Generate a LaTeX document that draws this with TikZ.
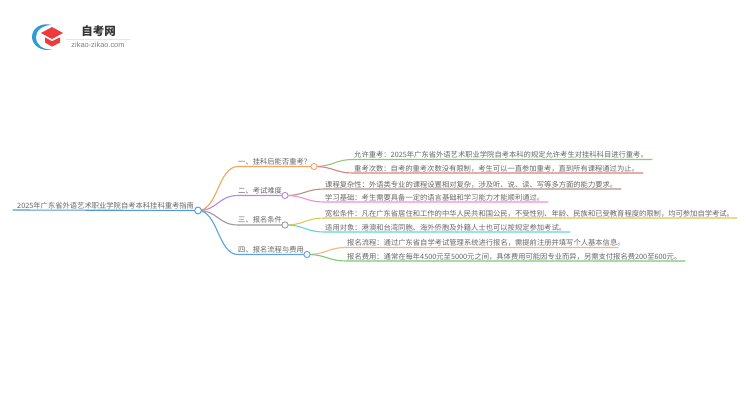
\documentclass[tikz,border=0pt]{standalone}
\usepackage{fontspec}
\usetikzlibrary{calc}
\setmainfont{Noto Sans CJK SC}
\setsansfont{Liberation Sans}
\newcommand{\cln}{\symbol{"FF1A}}
\newcommand{\cma}{\symbol{"FF0C}}
\definecolor{txt}{HTML}{666666}
\definecolor{cRoot}{HTML}{4F9BD9}
\definecolor{cA}{HTML}{F9A45C}
\definecolor{cB}{HTML}{B58AD8}
\definecolor{cC}{HTML}{9A9A9A}
\definecolor{cD}{HTML}{5FA3DC}
\definecolor{cA1}{HTML}{8CCB7E}
\definecolor{cA2}{HTML}{E07F7F}
\definecolor{cB1}{HTML}{B3938A}
\definecolor{cB2}{HTML}{F08FD8}
\definecolor{cC1}{HTML}{D6CF4E}
\definecolor{cC2}{HTML}{5FD6E6}
\definecolor{cD1}{HTML}{F9B57C}
\definecolor{cD2}{HTML}{7FC874}
\definecolor{logoB}{HTML}{2E9BDA}
\definecolor{logoR}{HTML}{EE3B3B}
\tikzset{
  x=1pt,y=-1pt,
  lab/.style={inner sep=0pt,anchor=base west,text=txt,font=\fontsize{7.3}{8}\selectfont},
  hub/.style={circle,draw=#1,fill=white,line width=0.9pt,minimum size=6.2pt,inner sep=0pt},
  wire/.style={draw=#1,line width=1.1pt,line cap=round},
}
\newcommand{\arm}[4]{% colour, from node, knee coordinate, end coordinate
  \draw[wire=#1] (#2.center) .. controls ($(#2.center)+(20,0)$) and ($(#3)+(-20,0)$) .. (#3) -- (#4);}
\begin{document}
\begin{tikzpicture}
\useasboundingbox (0,0) rectangle (750,410);
\fill[white] (0,0) rectangle (750,410);
% logo
\fill[logoB] (52,25) .. controls (40,22) and (32,29) .. (32,37) .. controls (32,45) and (41,52) .. (52,49.5) .. controls (43,50) and (36,45) .. (36,37) .. controls (36,30) and (43,25) .. (52,25) -- cycle;
\fill[logoR] (52,27) -- (63,33) -- (52,39) -- (41,33) -- cycle;
\fill[logoR] (45,37.4) -- (52,41.2) -- (60,37.4) -- (60,42.5) -- (52,46.5) -- (45,42.5) -- cycle;
\node[inner sep=0pt,text=black!80,font=\fontsize{11.5}{12}\selectfont\bfseries] (logoa) at (98.5,31) {自考网};
\node[inner sep=0pt,text=black!50,font=\sffamily\fontsize{7.4}{8}\selectfont] (logob) at (98,44.8) {zikao-zikao.com};
\draw[black!10,line width=0.6pt] (66,39) -- (130,39);
% nodes on the tree
\coordinate (rs) at (13,210);
\coordinate (k1) at (238,166.5);
\coordinate (k2) at (238,195.5);
\coordinate (k3) at (238,225);
\coordinate (k4) at (238,254.5);
\coordinate (a1k) at (354,159.5); \coordinate (a1e) at (652,159.5);
\coordinate (a2k) at (354,173);   \coordinate (a2e) at (643,173);
\coordinate (b1k) at (325,189);   \coordinate (b1e) at (621,189);
\coordinate (b2k) at (325,202);   \coordinate (b2e) at (548,202);
\coordinate (c1k) at (325,218);   \coordinate (c1e) at (737,218);
\coordinate (c2k) at (325,232);   \coordinate (c2e) at (570,232);
\coordinate (d1k) at (347,247.5); \coordinate (d1e) at (618,247.5);
\coordinate (d2k) at (347,261);   \coordinate (d2e) at (685,261);
\coordinate (root) at (198,210.5);
\coordinate (h1) at (314,166.5);
\coordinate (h2) at (285,195.5);
\coordinate (h3) at (285,225);
\coordinate (h4) at (307,254.5);
% connectors
\arm{cA1}{h1}{a1k}{a1e}
\arm{cA2}{h1}{a2k}{a2e}
\arm{cB1}{h2}{b1k}{b1e}
\arm{cB2}{h2}{b2k}{b2e}
\arm{cC1}{h3}{c1k}{c1e}
\arm{cC2}{h3}{c2k}{c2e}
\arm{cD1}{h4}{d1k}{d1e}
\arm{cD2}{h4}{d2k}{d2e}
\draw[wire=cA] (root) .. controls (218,210.5) and (218,166.5) .. (k1) -- (h1);
\draw[wire=cB] (root) .. controls (218,210.5) and (218,195.5) .. (k2) -- (h2);
\draw[wire=cC] (root) .. controls (218,210.5) and (218,225) .. (k3) -- (h3);
\draw[wire=cD] (root) .. controls (218,210.5) and (218,254.5) .. (k4) -- (h4);
\draw[wire=cRoot] (rs) -- (root);
\node[hub=cRoot,minimum size=6.8pt] (nr) at (root) {};
\node[hub=cA] (n1) at (h1) {};
\node[hub=cB] (n2) at (h2) {};
\node[hub=cC] (n3) at (h3) {};
\node[hub=cD] (n4) at (h4) {};
% labels
\node[lab] (t0) at (17,208.5) {2025年广东省外语艺术职业学院自考本科挂科重考指南};
\node[lab] (t1) at (238,164) {一、挂科后能否重考?};
\node[lab] (t2) at (238,193) {二、考试难度};
\node[lab] (t3) at (238,222.5) {三、报名条件};
\node[lab] (t4) at (238,252) {四、报名流程与费用};
\node[lab] (ta1) at (354,157.5) {允许重考\cln{}2025年广东省外语艺术职业学院自考本科的规定允许考生对挂科科目进行重考。};
\node[lab] (ta2) at (354,171) {重考次数\cln{}自考的重考次数没有限制\cma{}考生可以一直参加重考\cma{}直到所有课程通过为止。};
\node[lab] (tb1) at (325,187) {课程复杂性\cln{}外语类专业的课程设置相对复杂\cma{}涉及听、说、读、写等多方面的能力要求。};
\node[lab] (tb2) at (325,200) {学习基础\cln{}考生需要具备一定的语言基础和学习能力才能顺利通过。};
\node[lab] (tc1) at (325,216) {宽松条件\cln{}凡在广东省居住和工作的中华人民共和国公民\cma{}不受性别、年龄、民族和已受教育程度的限制\cma{}均可参加自学考试。};
\node[lab] (tc2) at (325,230) {适用对象\cln{}港澳和台湾同胞、海外侨胞及外籍人士也可以按规定参加考试。};
\node[lab] (td1) at (347,245.5) {报名流程\cln{}通过广东省自学考试管理系统进行报名\cma{}需提前注册并填写个人基本信息。};
\node[lab] (td2) at (347,259) {报名费用\cln{}通常在每年4500元至5000元之间\cma{}具体费用可能因专业而异\cma{}另需支付报名费200至600元。};
\end{tikzpicture}
\end{document}
